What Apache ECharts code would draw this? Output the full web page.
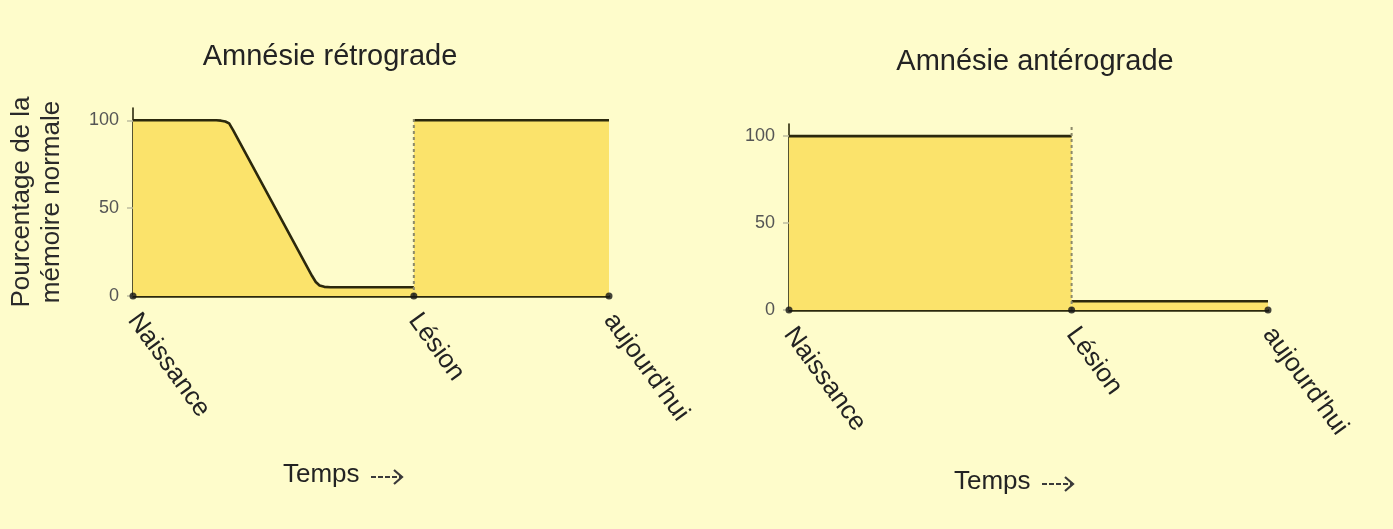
<!DOCTYPE html>
<html>
<head>
<meta charset="utf-8">
<script src="https://cdn.jsdelivr.net/npm/echarts@6/dist/echarts.min.js"></script>
<style>
  html, body { margin: 0; padding: 0; background: #fefccb; }
  #chart { width: 1393px; height: 529px; }
</style>
</head>
<body>
<div id="chart"></div>
<script>
// Time axis: key moments of a life, on a 0–100 scale
const timeMarks = [0, 59, 100];
const timeLabels = ['Naissance', 'Lésion', "aujourd'hui"];
const yTicks = [0, 50, 100];

// Retrograde amnesia: memory of the past before the lesion is lost
const retroBefore = [
  [0, 100], [17.5, 100], [18.5, 99.8], [19.4, 99.3], [20.2, 98.2], [21, 94.5],
  [37.6, 11.5], [38.4, 8], [39.2, 6], [40.2, 5.2], [41.5, 5], [59, 5]
];
const retroAfter = [[59, 100], [100, 100]];
const retroLesion = [[59, 0], [59, 102]];

// Anterograde amnesia: new memories after the lesion are not formed
const anteroBefore = [[0, 100], [59, 100]];
const anteroAfter = [[59, 5], [100, 5]];
const anteroLesion = [[59, 0], [59, 107]];

const panelTitles = ['Amnésie rétrograde', 'Amnésie antérograde'];
const yAxisName = 'Pourcentage de la\nmémoire normale';
const timeName = 'Temps';

const FONT = '"Liberation Sans", Arial, Helvetica, sans-serif';
const INK = '#2b280c';
const FILL = '#fbe36b';
const BG = '#fefccb';

const chart = echarts.init(document.getElementById('chart'));

function xAxisFor(gridIndex) {
  return {
    type: 'value', gridIndex, min: 0, max: 100,
    axisLine: { show: true, onZero: false, lineStyle: { color: INK, width: 2.5 } },
    axisTick: { show: false },
    splitLine: { show: false },
    axisLabel: {
      customValues: timeMarks,
      rotate: -54,
      margin: 20,
      fontFamily: FONT, fontSize: 26, color: '#232323',
      formatter: v => timeLabels[timeMarks.indexOf(v)] || ''
    }
  };
}

function yAxisFor(gridIndex, withName) {
  const ax = {
    type: 'value', gridIndex, min: 0, max: 107,
    axisLine: { show: true, lineStyle: { color: INK, width: 1.6 } },
    axisTick: { show: true, customValues: yTicks, length: 6, lineStyle: { color: '#bdbca0', width: 1.5 } },
    splitLine: { show: false },
    axisLabel: { customValues: yTicks, margin: 14, fontFamily: FONT, fontSize: 18, color: '#555' }
  };
  if (withName) {
    Object.assign(ax, {
      name: yAxisName, nameLocation: 'middle', nameRotate: 90, nameGap: 66,
      nameTextStyle: { fontFamily: FONT, fontSize: 26, color: '#2a2a2a', lineHeight: 30 }
    });
  }
  return ax;
}

function filled(data, xi, yi) {
  return {
    type: 'line', xAxisIndex: xi, yAxisIndex: yi, data, symbol: 'none',
    lineStyle: { color: INK, width: 2.6, join: 'round' },
    areaStyle: { color: FILL, opacity: 1 },
    z: 2
  };
}

function lesionLine(data, xi, yi) {
  return {
    type: 'line', xAxisIndex: xi, yAxisIndex: yi, data, symbol: 'none',
    lineStyle: { color: '#8c8a6a', width: 2, type: [3, 3] },
    z: 3
  };
}

function markers(xi, yi) {
  return {
    type: 'scatter', xAxisIndex: xi, yAxisIndex: yi,
    data: timeMarks.map(t => [t, 0]),
    symbolSize: 7, itemStyle: { color: '#141414' }, clip: false, z: 5
  };
}

function timeArrow(x, y) {
  return {
    type: 'group', x, y,
    children: [
      { type: 'text', style: { text: timeName, x: 0, y: 0, font: '26px ' + FONT, fill: '#232323', textVerticalAlign: 'middle' } },
      { type: 'line', shape: { x1: 88, y1: 2, x2: 118, y2: 2 }, style: { stroke: '#3a3a3a', lineWidth: 2.2, lineDash: [5, 2] } },
      { type: 'polyline', shape: { points: [[111, -5], [119, 2], [111, 9]] }, style: { stroke: '#3a3a3a', lineWidth: 2.2, fill: null } }
    ]
  };
}

chart.setOption({
  backgroundColor: BG,
  animation: false,
  grid: [
    { left: 133, top: 108, width: 476, height: 188 },
    { left: 789, top: 124, width: 479, height: 186 }
  ],
  xAxis: [xAxisFor(0), xAxisFor(1)],
  yAxis: [yAxisFor(0, true), yAxisFor(1, false)],
  graphic: [
    { type: 'text', style: { text: panelTitles[0], x: 330, y: 57, textAlign: 'center', textVerticalAlign: 'middle', font: '29px ' + FONT, fill: '#232323' } },
    { type: 'text', style: { text: panelTitles[1], x: 1035, y: 62, textAlign: 'center', textVerticalAlign: 'middle', font: '29px ' + FONT, fill: '#232323' } },
    timeArrow(283, 475),
    timeArrow(954, 482)
  ],
  series: [
    filled(retroBefore, 0, 0),
    filled(retroAfter, 0, 0),
    lesionLine(retroLesion, 0, 0),
    markers(0, 0),
    filled(anteroBefore, 1, 1),
    filled(anteroAfter, 1, 1),
    lesionLine(anteroLesion, 1, 1),
    markers(1, 1)
  ]
});
</script>
</body>
</html>
